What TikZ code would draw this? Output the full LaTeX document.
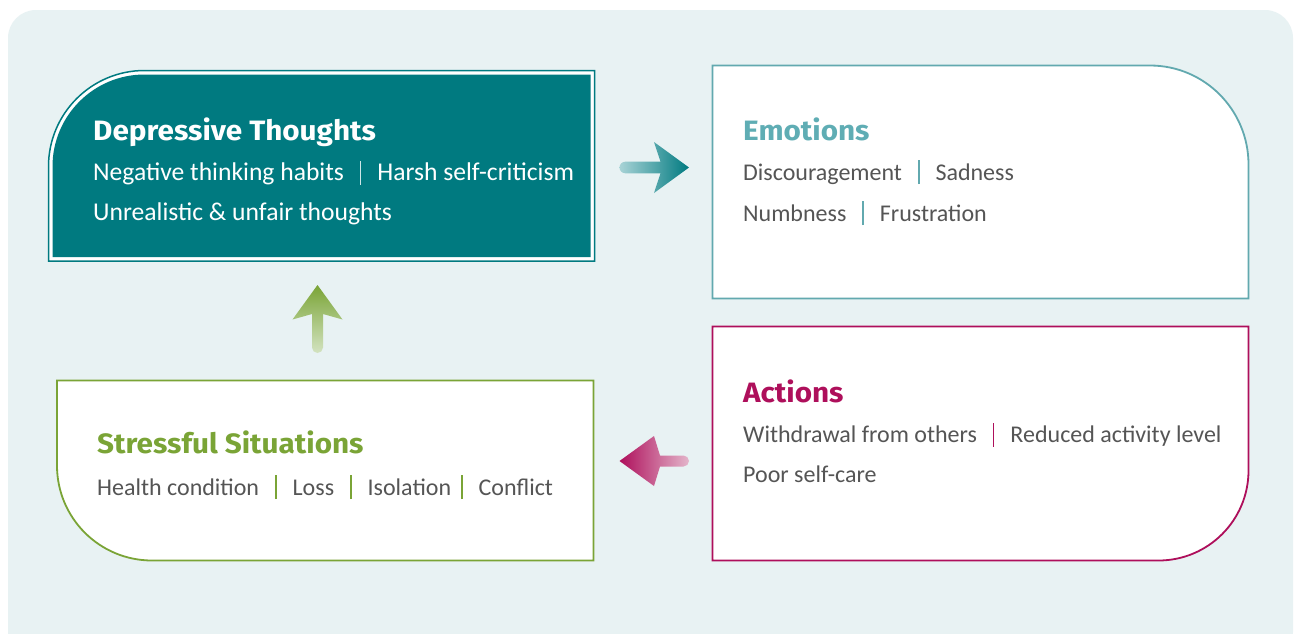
\documentclass[tikz,border=0pt]{standalone}
\usepackage{fontspec}
\setmainfont{Carlito}
\newfontfamily\titlefont{Fira Sans}[FakeStretch=1.06]
\definecolor{bgc}{HTML}{E8F2F3}
\definecolor{tealD}{HTML}{007A80}
\definecolor{tealA}{HTML}{A8D3D6}
\definecolor{tealL}{HTML}{62A9AF}
\definecolor{tealT}{HTML}{5FADB4}
\definecolor{sepW}{HTML}{CFE6E7}
\definecolor{mag}{HTML}{AE0F5B}
\definecolor{magL}{HTML}{E4B6CB}
\definecolor{grn}{HTML}{7AA436}
\definecolor{grnL}{HTML}{D3E3C0}
\definecolor{txt}{HTML}{555555}
\newcommand{\sepbar}[2][16pt]{\hspace{#1}{\color{#2}\rule[-4pt]{1.5pt}{24pt}}\hspace{16pt}}
\begin{document}
\begin{tikzpicture}[x=1pt,y=-1pt,
  ttl/.style={inner sep=0pt, anchor=base west, font=\titlefont\bfseries\fontsize{28}{32}\selectfont},
  bdy/.style={inner sep=0pt, anchor=base west, font=\fontsize{24}{29}\selectfont, text=txt},
  bdyw/.style={inner sep=0pt, anchor=base west, font=\fontsize{25.6}{30}\selectfont, text=white},
  boxline/.style={line width=1.8pt, fill=white}]
\useasboundingbox (0,0) rectangle (1294,633);
\fill[white] (0,0) rectangle (1294,633);
\begin{scope}
\clip (0,0) rectangle (1294,633);
\fill[bgc, rounded corners=28pt] (8,10) rectangle (1293,660);
\end{scope}

% Depressive Thoughts box
\draw[tealD, line width=1.5pt, fill=white] (594.5,261) -- (48.5,261) -- (48.5,166.5)
  .. controls (48.5,113.5) and (91.5,70.5) .. (144.5,70.5) -- (594.5,70.5) -- cycle;
\fill[tealD] (590.5,257) -- (52.5,257) -- (52.5,166.5)
  .. controls (52.5,115.7) and (93.7,74.5) .. (144.5,74.5) -- (590.5,74.5) -- cycle;

% Emotions box
\draw[tealL, boxline] (712.5,65.5) -- (1150,65.5) .. controls (1204.6,65.5) and (1248.5,110) ..
  (1248.5,164.5) -- (1248.5,298.5) -- (712.5,298.5) -- cycle;

% Actions box
\draw[mag, boxline] (712.5,326.5) -- (1248.5,326.5) -- (1248.5,470.5) .. controls (1248.5,520.2) and (1208.2,560.5) ..
  (1158.5,560.5) -- (712.5,560.5) -- cycle;

% Stressful Situations box
\draw[grn, boxline] (593.5,380.5) -- (57,380.5) -- (57,465.5) .. controls (57,518) and (99.5,560.5) ..
  (152,560.5) -- (593.5,560.5) -- cycle;

% arrows
\shade[left color=tealA, right color=tealD] (625.3,161.7) -- (660.5,161.7) -- (654,142) -- (689,167.5) -- (654,193) -- (660.5,173.3) -- (625.3,173.3)
  .. controls (622.1,173.3) and (619.5,170.7) .. (619.5,167.5) .. controls (619.5,164.3) and (622.1,161.7) .. (625.3,161.7) -- cycle;
\shade[top color=grn, bottom color=grnL] (312,347.5) -- (312,314) -- (292.5,319.5) -- (317.5,285) -- (342.5,319.5) -- (323,314) -- (323,347.5)
  .. controls (323,350.5) and (320.5,353) .. (317.5,353) .. controls (314.5,353) and (312,350.5) .. (312,347.5) -- cycle;
\shade[left color=mag, right color=magL] (683.5,455.5) -- (660,455.5) -- (654,436) -- (619.5,461) -- (654,486) -- (660,466.5) -- (683.5,466.5)
  .. controls (686.5,466.5) and (689,464) .. (689,461) .. controls (689,458) and (686.5,455.5) .. (683.5,455.5) -- cycle;

% texts
\node[ttl, text=white] (dtT) at (93,140) {Depressive Thoughts};
\node[bdyw] (dt1) at (93,180.7) {Negative thinking habits\sepbar{sepW}Harsh self-criticism};
\node[bdyw] (dt2) at (93,220.5) {Unrealistic \& unfair thoughts};

\node[ttl, text=tealT] (emT) at (743,140) {Emotions};
\node[bdy] (em1) at (743,180) {Discouragement\sepbar{tealL}Sadness};
\node[bdy] (em2) at (743,221) {Numbness\sepbar{tealL}Frustration};

\node[ttl, text=mag] (acT) at (743,402) {Actions};
\node[bdy] (ac1) at (743,442.7) {Withdrawal from others\sepbar{mag}Reduced activity level};
\node[bdy] (ac2) at (743,482.7) {Poor self-care};

\node[ttl, text=grn] (ssT) at (97,453) {Stressful Situations};
\node[bdy] (ss1) at (97,495) {Health condition\sepbar{grn}Loss\sepbar{grn}Isolation\sepbar[10pt]{grn}Conflict};
\end{tikzpicture}
\end{document}
